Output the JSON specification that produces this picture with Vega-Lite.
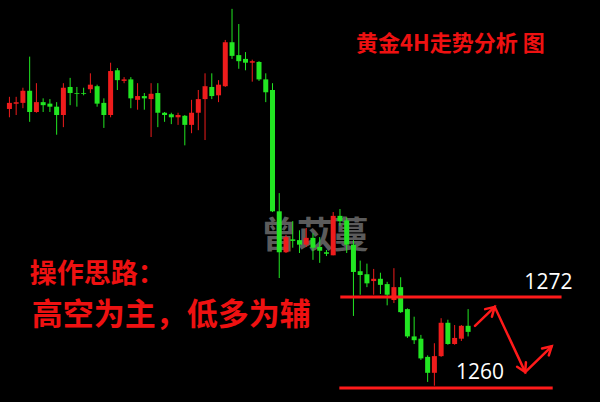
{
  "$schema": "https://vega.github.io/schema/vega-lite/v6.json",
  "width": 600,
  "height": 402,
  "autosize": {"type": "fit", "contains": "padding"},
  "padding": 0,
  "background": "#000000",
  "config": {"view": {"stroke": null}},
  "datasets": {
    "candles": [
      {"i":1,"o":1296.8,"h":1298.4,"l":1295.7,"c":1297.6},
      {"i":2,"o":1297.5,"h":1298.4,"l":1296.0,"c":1297.7},
      {"i":3,"o":1297.6,"h":1299.6,"l":1296.9,"c":1299.2},
      {"i":4,"o":1299.2,"h":1303.7,"l":1295.1,"c":1296.4},
      {"i":5,"o":1296.4,"h":1300.2,"l":1296.3,"c":1297.7},
      {"i":6,"o":1297.7,"h":1298.2,"l":1296.4,"c":1297.3},
      {"i":7,"o":1297.5,"h":1298.1,"l":1296.4,"c":1297.1},
      {"i":8,"o":1297.1,"h":1297.7,"l":1293.4,"c":1296.0},
      {"i":9,"o":1296.0,"h":1300.2,"l":1294.4,"c":1299.6},
      {"i":10,"o":1299.7,"h":1300.9,"l":1297.3,"c":1298.9},
      {"i":11,"o":1298.9,"h":1299.7,"l":1297.1,"c":1298.8},
      {"i":12,"o":1298.9,"h":1299.6,"l":1298.6,"c":1298.8},
      {"i":13,"o":1299.4,"h":1301.5,"l":1298.9,"c":1300.0},
      {"i":14,"o":1299.8,"h":1300.0,"l":1297.1,"c":1297.5},
      {"i":15,"o":1297.6,"h":1298.2,"l":1294.3,"c":1296.0},
      {"i":16,"o":1296.0,"h":1302.9,"l":1295.7,"c":1301.8},
      {"i":17,"o":1301.9,"h":1302.2,"l":1299.3,"c":1300.6},
      {"i":18,"o":1300.5,"h":1301.0,"l":1300.2,"c":1300.7},
      {"i":19,"o":1300.7,"h":1301.0,"l":1296.9,"c":1298.2},
      {"i":20,"o":1298.0,"h":1300.2,"l":1296.7,"c":1298.5},
      {"i":21,"o":1298.5,"h":1298.9,"l":1296.7,"c":1298.2},
      {"i":22,"o":1298.1,"h":1300.2,"l":1293.1,"c":1298.8},
      {"i":23,"o":1298.9,"h":1300.2,"l":1294.4,"c":1296.3},
      {"i":24,"o":1296.3,"h":1296.4,"l":1295.1,"c":1296.0},
      {"i":25,"o":1296.1,"h":1296.3,"l":1294.8,"c":1295.7},
      {"i":26,"o":1295.7,"h":1296.3,"l":1294.7,"c":1296.0},
      {"i":27,"o":1295.9,"h":1296.0,"l":1292.0,"c":1294.7},
      {"i":28,"o":1294.7,"h":1298.0,"l":1293.6,"c":1296.3},
      {"i":29,"o":1296.3,"h":1299.3,"l":1294.0,"c":1298.1},
      {"i":30,"o":1298.1,"h":1301.5,"l":1292.7,"c":1299.8},
      {"i":31,"o":1299.7,"h":1301.5,"l":1298.1,"c":1298.5},
      {"i":32,"o":1298.6,"h":1300.6,"l":1297.7,"c":1300.0},
      {"i":33,"o":1299.8,"h":1305.9,"l":1299.7,"c":1305.6},
      {"i":34,"o":1305.6,"h":1310.0,"l":1303.4,"c":1303.8},
      {"i":35,"o":1303.9,"h":1308.0,"l":1302.1,"c":1303.1},
      {"i":36,"o":1303.4,"h":1304.3,"l":1301.9,"c":1302.9},
      {"i":37,"o":1302.9,"h":1303.3,"l":1300.4,"c":1303.1},
      {"i":38,"o":1303.0,"h":1303.1,"l":1300.5,"c":1300.7},
      {"i":39,"o":1300.7,"h":1301.5,"l":1297.7,"c":1299.0},
      {"i":40,"o":1299.3,"h":1300.2,"l":1283.2,"c":1283.3},
      {"i":41,"o":1283.3,"h":1285.7,"l":1274.5,"c":1277.9},
      {"i":42,"o":1277.9,"h":1280.2,"l":1277.8,"c":1279.9},
      {"i":43,"o":1279.6,"h":1282.0,"l":1278.5,"c":1279.4},
      {"i":44,"o":1279.5,"h":1280.8,"l":1277.8,"c":1278.9},
      {"i":45,"o":1278.9,"h":1281.1,"l":1278.6,"c":1279.8},
      {"i":46,"o":1279.8,"h":1280.4,"l":1276.9,"c":1278.5},
      {"i":47,"o":1278.6,"h":1279.9,"l":1276.5,"c":1278.1},
      {"i":48,"o":1277.9,"h":1278.2,"l":1277.4,"c":1277.7},
      {"i":49,"o":1277.5,"h":1283.2,"l":1277.5,"c":1282.7},
      {"i":50,"o":1282.7,"h":1283.6,"l":1281.4,"c":1282.0},
      {"i":51,"o":1282.1,"h":1282.5,"l":1277.8,"c":1278.9},
      {"i":52,"o":1278.9,"h":1279.5,"l":1269.5,"c":1275.3},
      {"i":53,"o":1275.4,"h":1276.8,"l":1272.3,"c":1274.9},
      {"i":54,"o":1275.0,"h":1276.4,"l":1273.3,"c":1273.8},
      {"i":55,"o":1274.1,"h":1275.7,"l":1272.3,"c":1274.4},
      {"i":56,"o":1274.4,"h":1275.2,"l":1272.4,"c":1273.6},
      {"i":57,"o":1273.7,"h":1274.0,"l":1270.9,"c":1272.3},
      {"i":58,"o":1271.6,"h":1275.8,"l":1271.2,"c":1273.3},
      {"i":59,"o":1273.3,"h":1274.6,"l":1269.9,"c":1270.0},
      {"i":60,"o":1270.4,"h":1270.5,"l":1266.6,"c":1266.8},
      {"i":61,"o":1266.8,"h":1269.4,"l":1265.8,"c":1266.3},
      {"i":62,"o":1266.5,"h":1267.0,"l":1263.7,"c":1263.9},
      {"i":63,"o":1264.1,"h":1264.3,"l":1260.8,"c":1262.0},
      {"i":64,"o":1262.0,"h":1265.9,"l":1260.3,"c":1264.2},
      {"i":65,"o":1264.2,"h":1269.2,"l":1264.1,"c":1268.6},
      {"i":66,"o":1268.6,"h":1269.0,"l":1265.7,"c":1265.8},
      {"i":67,"o":1265.8,"h":1268.3,"l":1265.7,"c":1266.6},
      {"i":68,"o":1266.5,"h":1268.3,"l":1266.2,"c":1268.2},
      {"i":69,"o":1268.2,"h":1270.4,"l":1266.8,"c":1267.4}
    ],
    "levels": [
      {"x1": 50.05, "x2": 82.85, "p": 1272},
      {"x1": 49.91, "x2": 81.54, "p": 1260}
    ],
    "arrows": [
      {"seg": "path", "k": 1, "x": 70.02, "y": 1268.2},
      {"seg": "path", "k": 2, "x": 72.94, "y": 1270.7},
      {"seg": "path", "k": 3, "x": 77.46, "y": 1262.1},
      {"seg": "path", "k": 4, "x": 81.39, "y": 1265.5},
      {"seg": "h1", "k": 1, "x": 71.52, "y": 1270.4},
      {"seg": "h1", "k": 2, "x": 72.94, "y": 1270.7},
      {"seg": "h1", "k": 3, "x": 72.53, "y": 1269.4},
      {"seg": "h2", "k": 1, "x": 77.57, "y": 1263.4},
      {"seg": "h2", "k": 2, "x": 77.46, "y": 1262.1},
      {"seg": "h2", "k": 3, "x": 76.26, "y": 1262.8},
      {"seg": "h3", "k": 1, "x": 79.96, "y": 1265.2},
      {"seg": "h3", "k": 2, "x": 81.39, "y": 1265.5},
      {"seg": "h3", "k": 3, "x": 80.96, "y": 1264.3}
    ]
  },
  "layer": [
    {
      "mark": {"type": "rule", "color": "#9b9b9b", "strokeWidth": 1},
      "encoding": {
        "y": {"datum": 1267.5, "type": "quantitative", "scale": {"domain": [1258.15, 1311.17], "nice": false, "zero": false}, "axis": null}
      }
    },
    {
      "data": {"values": [{"x": 46.26, "y": 1279.9, "t": "曾苡蔓"}]},
      "mark": {"type": "text", "font": "Noto Sans CJK SC", "fontSize": 36, "fontWeight": "bold", "color": "#8c8c8c", "opacity": 0.65, "align": "center", "baseline": "middle"},
      "encoding": {
        "x": {"field": "x", "type": "quantitative", "scale": {"domain": [0.344, 87.81], "nice": false, "zero": false}, "axis": null},
        "y": {"field": "y", "type": "quantitative", "scale": {"domain": [1258.15, 1311.17], "nice": false, "zero": false}, "axis": null},
        "text": {"field": "t"}
      }
    },
    {
      "data": {"name": "candles"},
      "mark": {"type": "rule", "strokeWidth": 1},
      "encoding": {
        "x": {"field": "i", "type": "quantitative", "scale": {"domain": [0.344, 87.81], "nice": false, "zero": false}, "axis": null},
        "y": {"field": "l", "type": "quantitative", "scale": {"domain": [1258.15, 1311.17], "nice": false, "zero": false}, "axis": null},
        "y2": {"field": "h"},
        "color": {"condition": {"test": "datum.c > datum.o", "value": "#ee1c1c"}, "value": "#22e622"}
      }
    },
    {
      "data": {"name": "candles"},
      "mark": {"type": "bar", "width": 5},
      "encoding": {
        "x": {"field": "i", "type": "quantitative", "scale": {"domain": [0.344, 87.81], "nice": false, "zero": false}, "axis": null},
        "y": {"field": "o", "type": "quantitative", "scale": {"domain": [1258.15, 1311.17], "nice": false, "zero": false}, "axis": null},
        "y2": {"field": "c"},
        "color": {"condition": {"test": "datum.c > datum.o", "value": "#ee1c1c"}, "value": "#22e622"}
      }
    },
    {
      "data": {"name": "levels"},
      "mark": {"type": "rule", "color": "#ff1a1a", "strokeWidth": 3},
      "encoding": {
        "x": {"field": "x1", "type": "quantitative", "scale": {"domain": [0.344, 87.81], "nice": false, "zero": false}, "axis": null},
        "x2": {"field": "x2"},
        "y": {"field": "p", "type": "quantitative", "scale": {"domain": [1258.15, 1311.17], "nice": false, "zero": false}, "axis": null}
      }
    },
    {
      "data": {"name": "arrows"},
      "mark": {"type": "line", "color": "#ff1a1a", "strokeWidth": 2.5, "strokeCap": "round", "strokeJoin": "miter"},
      "encoding": {
        "x": {"field": "x", "type": "quantitative", "scale": {"domain": [0.344, 87.81], "nice": false, "zero": false}, "axis": null},
        "y": {"field": "y", "type": "quantitative", "scale": {"domain": [1258.15, 1311.17], "nice": false, "zero": false}, "axis": null},
        "detail": {"field": "seg"},
        "order": {"field": "k", "type": "quantitative"}
      }
    },
    {
      "data": {"values": [{"x": 80.9, "y": 1273.05, "t": "1272"}, {"x": 70.75, "y": 1261.18, "t": "1260"}]},
      "mark": {"type": "text", "font": "Open Sans", "fontSize": 21, "color": "#ffffff", "align": "center", "baseline": "alphabetic"},
      "encoding": {
        "x": {"field": "x", "type": "quantitative", "scale": {"domain": [0.344, 87.81], "nice": false, "zero": false}, "axis": null},
        "y": {"field": "y", "type": "quantitative", "scale": {"domain": [1258.15, 1311.17], "nice": false, "zero": false}, "axis": null},
        "text": {"field": "t"}
      }
    },
    {
      "data": {"values": [{"x": 52.39, "y": 1304.44, "t": "黄金4H走势分析 图"}]},
      "mark": {"type": "text", "font": "Noto Sans CJK SC", "fontSize": 22, "fontWeight": "bold", "color": "#ee1111", "align": "left", "baseline": "alphabetic"},
      "encoding": {
        "x": {"field": "x", "type": "quantitative", "scale": {"domain": [0.344, 87.81], "nice": false, "zero": false}, "axis": null},
        "y": {"field": "y", "type": "quantitative", "scale": {"domain": [1258.15, 1311.17], "nice": false, "zero": false}, "axis": null},
        "text": {"field": "t"}
      }
    },
    {
      "data": {"values": [{"x": 4.0, "y": 1273.84, "t": "操作思路："}]},
      "mark": {"type": "text", "font": "Noto Sans CJK SC", "fontSize": 27, "fontWeight": "bold", "color": "#ee1111", "align": "left", "baseline": "alphabetic"},
      "encoding": {
        "x": {"field": "x", "type": "quantitative", "scale": {"domain": [0.344, 87.81], "nice": false, "zero": false}, "axis": null},
        "y": {"field": "y", "type": "quantitative", "scale": {"domain": [1258.15, 1311.17], "nice": false, "zero": false}, "axis": null},
        "text": {"field": "t"}
      }
    },
    {
      "data": {"values": [{"x": 4.3, "y": 1268.3, "t": "高空为主，低多为辅"}]},
      "mark": {"type": "text", "font": "Noto Sans CJK SC", "fontSize": 31, "fontWeight": "bold", "color": "#ee1111", "align": "left", "baseline": "alphabetic"},
      "encoding": {
        "x": {"field": "x", "type": "quantitative", "scale": {"domain": [0.344, 87.81], "nice": false, "zero": false}, "axis": null},
        "y": {"field": "y", "type": "quantitative", "scale": {"domain": [1258.15, 1311.17], "nice": false, "zero": false}, "axis": null},
        "text": {"field": "t"}
      }
    }
  ]
}
